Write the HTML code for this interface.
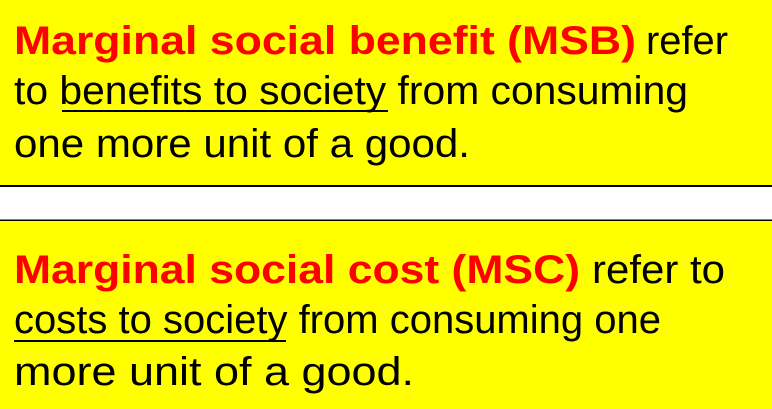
<!DOCTYPE html>
<html><head><meta charset="utf-8"><style>
html,body{margin:0;padding:0;background:#fff;width:772px;height:409px;overflow:hidden}
svg{display:block}
.r{fill:#ff0000;font-weight:bold}
.b{fill:#000}
text{font-family:"Liberation Sans",sans-serif;font-size:40px}
</style></head><body>
<svg width="772" height="409">
<rect x="0" y="0" width="772" height="185" fill="#ffff00"/>
<rect x="0" y="185" width="772" height="2" fill="#000"/>
<rect x="0" y="219.5" width="772" height="1.5" fill="#000"/>
<rect x="0" y="221" width="772" height="188" fill="#ffff00"/>

<g>
<text x="14" y="54" textLength="622" lengthAdjust="spacingAndGlyphs" class="r">Marginal social benefit (MSB)</text>
<text x="646" y="54" textLength="82" lengthAdjust="spacingAndGlyphs" class="b">refer</text>
<text x="14" y="104" textLength="674" lengthAdjust="spacingAndGlyphs" class="b">to benefits to society from consuming</text>
<rect x="62" y="110" width="326" height="2" fill="#000"/>
<text x="14" y="157" textLength="456" lengthAdjust="spacingAndGlyphs" class="b">one more unit of a good.</text>
</g>

<g>
<text x="14" y="283" textLength="566" lengthAdjust="spacingAndGlyphs" class="r">Marginal social cost (MSC)</text>
<text x="592" y="283" textLength="133" lengthAdjust="spacingAndGlyphs" class="b">refer to</text>
<text x="14" y="333" textLength="647" lengthAdjust="spacingAndGlyphs" class="b">costs to society from consuming one</text>
<rect x="14" y="340" width="272" height="2" fill="#000"/>
<text x="14" y="385" textLength="400" lengthAdjust="spacingAndGlyphs" class="b">more unit of a good.</text>
</g>
</svg>
</body></html>
